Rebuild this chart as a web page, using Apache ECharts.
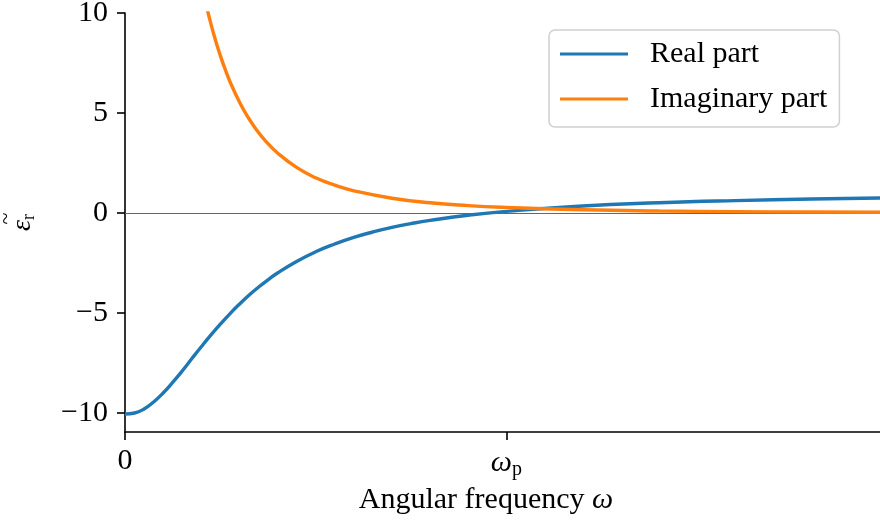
<!DOCTYPE html>
<html>
<head>
<meta charset="utf-8">
<script src="https://cdn.jsdelivr.net/npm/echarts@6/dist/echarts.min.js"></script>
<style>html,body{margin:0;padding:0;background:#fff;}#c{width:880px;height:524px;}</style>
</head>
<body>
<div id="c"></div>
<script>
// Angular frequency in units of omega_p
var omegaReal = [0, 0.025, 0.05, 0.075, 0.1, 0.125, 0.15, 0.175, 0.2, 0.225, 0.25, 0.275, 0.3, 0.325, 0.35, 0.375, 0.4, 0.45, 0.5, 0.55, 0.6, 0.65, 0.7, 0.75, 0.8, 0.9, 1.0, 1.2, 1.4, 1.6, 1.8, 1.98];
var realPart  = [-10.05, -10.0, -9.8, -9.45, -9.0, -8.47, -7.9, -7.29, -6.69, -6.11, -5.56, -5.04, -4.56, -4.11, -3.71, -3.34, -3.0, -2.42, -1.94, -1.55, -1.22, -0.95, -0.72, -0.53, -0.37, -0.11, 0.08, 0.35, 0.51, 0.62, 0.7, 0.75];
var omegaImag = [0.2, 0.21, 0.22, 0.235, 0.25, 0.265, 0.28, 0.3, 0.32, 0.34, 0.37, 0.4, 0.45, 0.5, 0.55, 0.6, 0.7, 0.8, 0.9, 1.0, 1.2, 1.4, 1.6, 1.8, 1.98];
var imagPart  = [11.5, 10.65, 9.85, 8.79, 7.87, 7.07, 6.36, 5.56, 4.87, 4.29, 3.57, 3.0, 2.28, 1.76, 1.39, 1.11, 0.74, 0.51, 0.37, 0.28, 0.16, 0.1, 0.07, 0.05, 0.04];
var xTicks = [0, 1];
var xTickLabels = ['0', '{w|ω}{p|p}'];
var yTicks = [-10, -5, 0, 5, 10];
var seriesNames = ['Real part', 'Imaginary part'];
var seriesColors = ['#1f77b4', '#ff7f0e'];

function zip(a, b) { return a.map(function (v, i) { return [v, b[i]]; }); }

var FONT = 'Liberation Serif';
var chart = echarts.init(document.getElementById('c'), null, {renderer: 'canvas'});
chart.setOption({
  animation: false,
  backgroundColor: '#fff',
  textStyle: {fontFamily: FONT, color: '#000'},
  grid: {left: 125, right: 0, top: 13, bottom: 92, containLabel: false, outerBoundsMode: 'none'},
  legend: {
    orient: 'vertical',
    left: 549, top: 30,
    padding: [9, 12, 13, 11],
    itemGap: 15,
    itemWidth: 68, itemHeight: 3,
    icon: 'rect',
    backgroundColor: '#fff',
    borderColor: '#d0d0d0', borderWidth: 1.5, borderRadius: 6,
    textStyle: {fontFamily: FONT, fontSize: 30, color: '#000', padding: [0, 0, 0, 17], width: 205},
    data: seriesNames
  },
  xAxis: {
    type: 'value', min: 0, max: 1.98,
    axisLine: {onZero: false, lineStyle: {color: '#000', width: 1.6}},
    axisTick: {show: true, length: 8, lineStyle: {color: '#000', width: 1.6}, customValues: xTicks},
    axisLabel: {
      fontFamily: FONT, fontSize: 30, color: '#000', margin: 14,
      customValues: xTicks,
      formatter: function (v) { return xTickLabels[xTicks.indexOf(v)]; },
      rich: {w: {fontFamily: FONT, fontSize: 30, fontStyle: 'italic'}, p: {fontFamily: FONT, fontSize: 20, padding: [14, 0, 0, 0]}}
    },
    splitLine: {show: false},
    name: '{a|Angular frequency }{w|ω}',
    nameLocation: 'middle', nameGap: 50,
    nameTextStyle: {fontFamily: FONT, fontSize: 30, color: '#000', padding: [0, 33, 0, 0],
      rich: {a: {fontFamily: FONT, fontSize: 30}, w: {fontFamily: FONT, fontSize: 30, fontStyle: 'italic'}}}
  },
  yAxis: {
    type: 'value', min: -10.95, max: 10,
    axisLine: {show: true, lineStyle: {color: '#000', width: 1.6}},
    axisTick: {show: true, length: 8, lineStyle: {color: '#000', width: 1.6}, customValues: yTicks},
    axisLabel: {
      fontFamily: FONT, fontSize: 30, color: '#000', margin: 17,
      customValues: yTicks,
      formatter: function (v) { return v < 0 ? '\u2212' + Math.abs(v) : String(v); }
    },
    splitLine: {show: false},
    name: '{t|~}\n{e|ε}{s|r}',
    nameLocation: 'middle', nameRotate: 90, nameGap: 87,
    nameTextStyle: {fontFamily: FONT, fontSize: 28, color: '#000',
      rich: {
        t: {fontFamily: FONT, fontSize: 22, width: 13, align: 'center', lineHeight: 4, padding: [0, 0, 0, 8]},
        e: {fontFamily: FONT, fontSize: 28, fontStyle: 'italic', lineHeight: 17},
        s: {fontFamily: FONT, fontSize: 18, padding: [12, 0, 0, 0]}
      }}
  },
  series: [
    {
      name: seriesNames[0], type: 'line', data: zip(omegaReal, realPart),
      symbol: 'none', showSymbol: false, smooth: true, clip: true,
      lineStyle: {color: seriesColors[0], width: 3.4}, itemStyle: {color: seriesColors[0]},
      z: 3,
      markLine: {
        silent: true, symbol: 'none', label: {show: false},
        lineStyle: {color: '#666', width: 1, type: 'solid'},
        data: [{yAxis: 0}], z: 1
      }
    },
    {
      name: seriesNames[1], type: 'line', data: zip(omegaImag, imagPart),
      symbol: 'none', showSymbol: false, smooth: true, clip: true,
      lineStyle: {color: seriesColors[1], width: 3.4}, itemStyle: {color: seriesColors[1]},
      z: 4
    }
  ]
});
</script>
</body>
</html>
